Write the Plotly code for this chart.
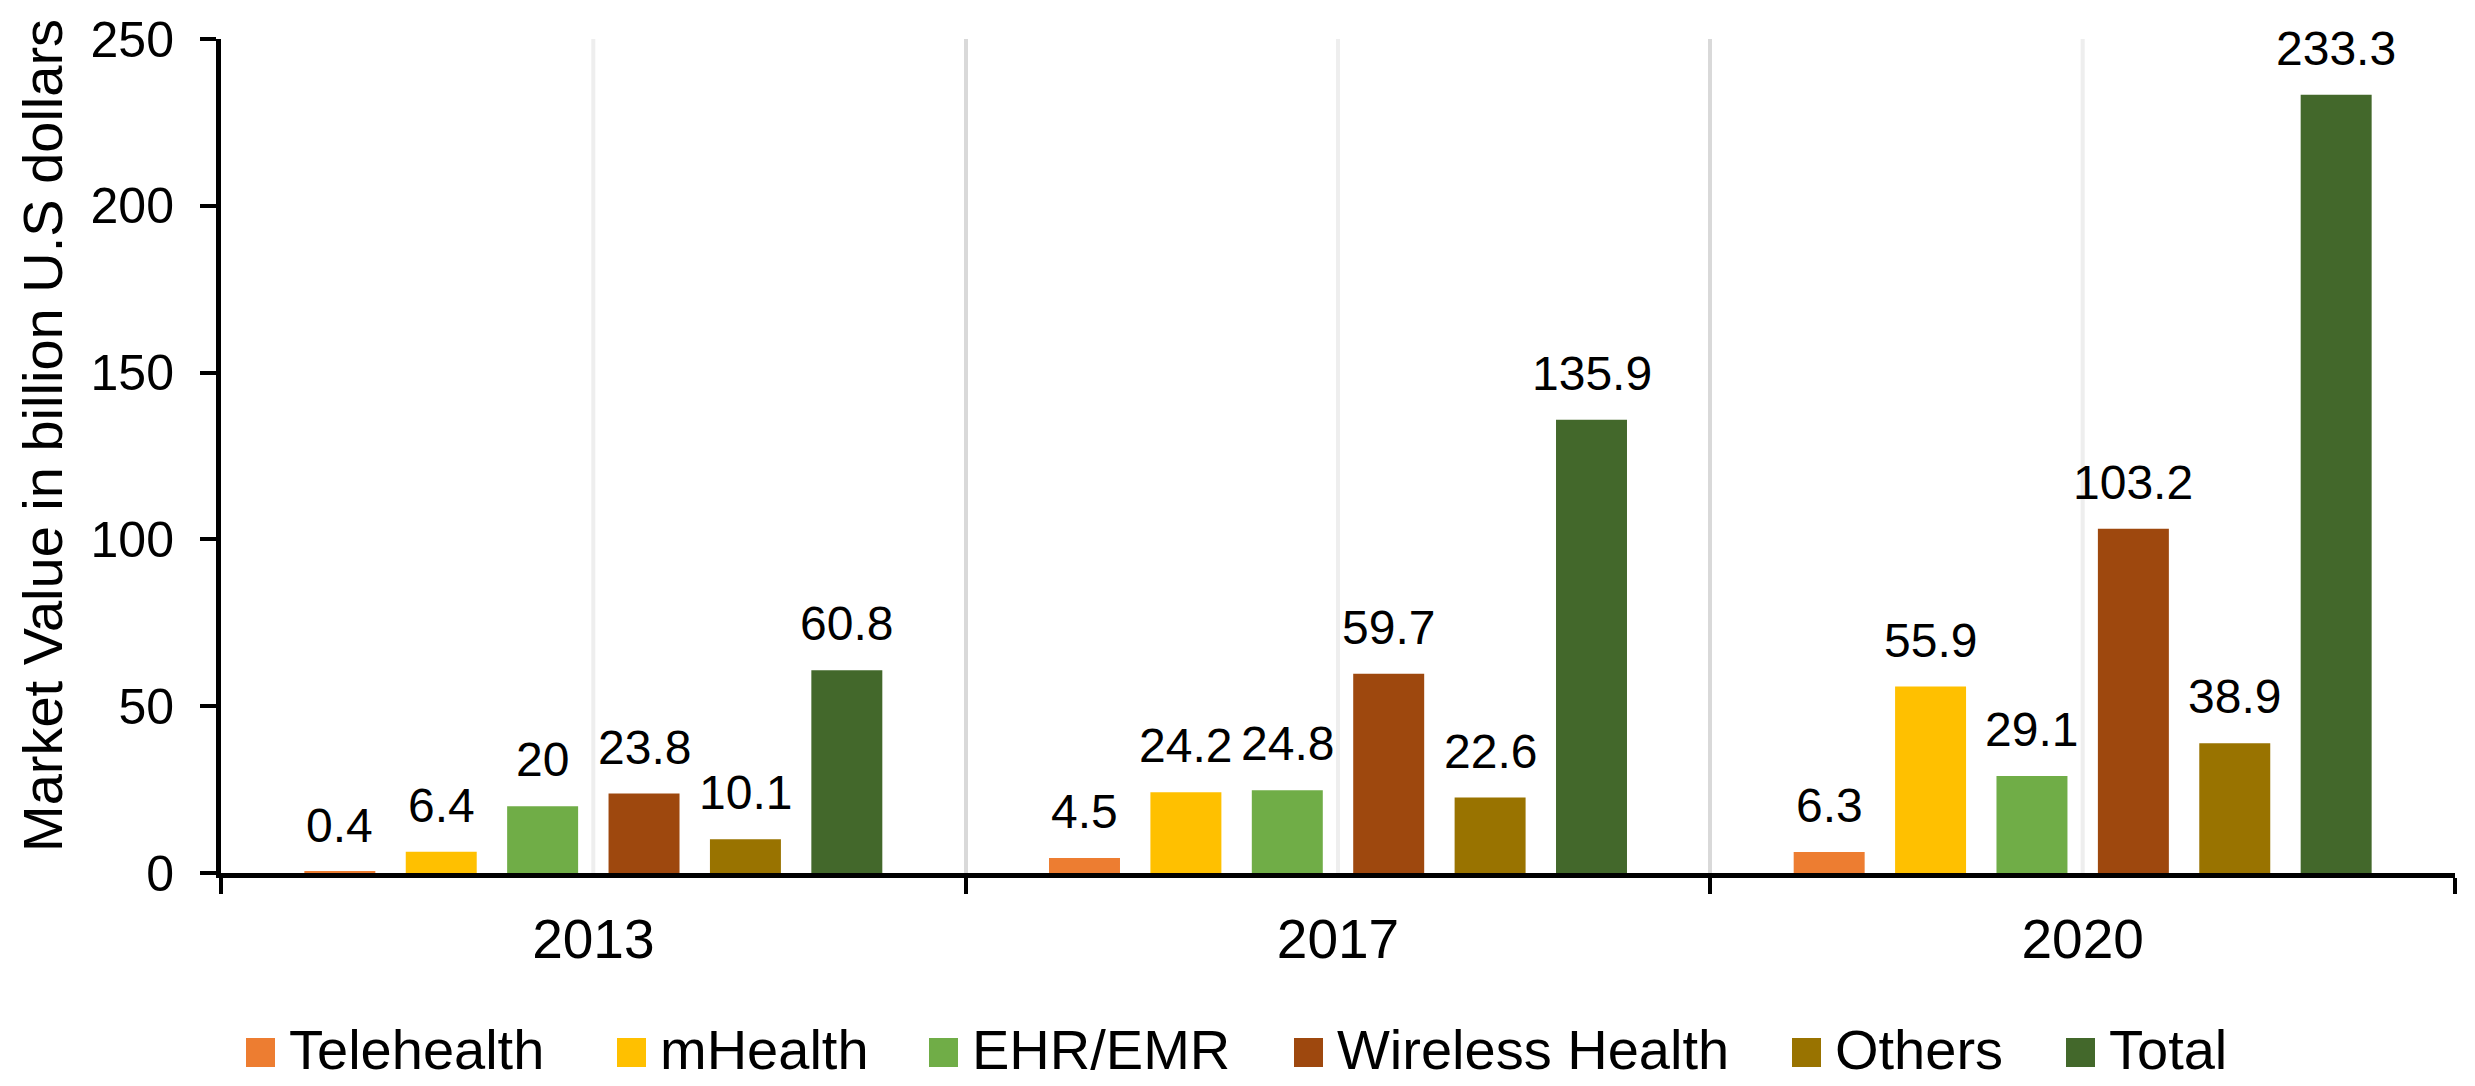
import plotly.graph_objects as go

# data (billion U.S. dollars)
years = ["2013", "2017", "2020"]
series_names = ["Telehealth", "mHealth", "EHR/EMR", "Wireless Health", "Others", "Total"]
telehealth = [0.4, 4.5, 6.3]
mhealth = [6.4, 24.2, 55.9]
ehr_emr = [20, 24.8, 29.1]
wireless_health = [23.8, 59.7, 103.2]
others = [10.1, 22.6, 38.9]
total = [60.8, 135.9, 233.3]
y_ticks = [0, 50, 100, 150, 200, 250]

series_values = [telehealth, mhealth, ehr_emr, wireless_health, others, total]
colors = ["#ED7D31", "#FFC000", "#70AD47", "#9E480E", "#997300", "#43682B"]

FONT = "Liberation Sans, Arial, sans-serif"
W, H = 2475, 1086
L, T = 221, 39
R = W - 2455
B = H - 873
PLOT_W = W - L - R
PLOT_H = H - T - B
BARGAP = 0.183
BARGROUPGAP = 0.30


def px_x(px):
    # figure pixel -> paper coordinate
    return (px - L) / PLOT_W


def px_y(py):
    return (H - B - py) / PLOT_H


fig = go.Figure()
for name, vals, col in zip(series_names, series_values, colors):
    fig.add_trace(go.Bar(name=name, x=years, y=vals, marker_color=col,
                         marker_line_width=0, showlegend=False))

# data labels above each bar
n = len(series_names)
slot = (1 - BARGAP) / n
annotations = []
for k, vals in enumerate(series_values):
    for i, v in enumerate(vals):
        annotations.append(dict(
            x=i + (k - (n - 1) / 2) * slot, y=v, xref="x", yref="y",
            text=f"{v:g}", showarrow=False, yanchor="bottom", yshift=18,
            font=dict(family=FONT, size=48, color="black"),
        ))

# y title as an annotation: it sits a little above the plot centre
annotations.append(dict(
    x=px_x(42), y=px_y(436), xref="paper", yref="paper",
    text="Market Value in billion U.S dollars", textangle=-90,
    showarrow=False, xanchor="center", yanchor="middle",
    font=dict(family=FONT, size=56, color="black"),
))

shapes = []
# light vertical lines through category centres
for i in range(len(years)):
    shapes.append(dict(type="line", xref="x", yref="y", x0=i, x1=i,
                       y0=0, y1=y_ticks[-1], layer="below",
                       line=dict(color="#EEEEEE", width=4)))

# legend drawn by hand so the swatches match the original size
legend_left = [246, 617, 929, 1294, 1792, 2066]
sw = 29
for name, col, lx in zip(series_names, colors, legend_left):
    shapes.append(dict(type="rect", xref="paper", yref="paper",
                       x0=px_x(lx), x1=px_x(lx + sw),
                       y0=px_y(1067), y1=px_y(1038),
                       fillcolor=col, line_width=0))
    annotations.append(dict(
        x=px_x(lx + sw + 12), y=px_y(1049), xref="paper", yref="paper",
        text=name, showarrow=False, xanchor="left", yanchor="middle",
        font=dict(family=FONT, size=56, color="black"),
    ))

fig.update_layout(
    width=W, height=H,
    margin=dict(l=L, r=R, t=T, b=B),
    paper_bgcolor="white", plot_bgcolor="white",
    barmode="group", bargap=BARGAP, bargroupgap=BARGROUPGAP,
    font=dict(family=FONT, color="black"),
    showlegend=False,
    annotations=annotations,
    shapes=shapes,
)
fig.update_xaxes(
    type="category", tickson="boundaries",
    showgrid=True, gridcolor="#D9D9D9", gridwidth=4,
    showline=True, linecolor="black", linewidth=5,
    ticks="outside", ticklen=16, tickwidth=4, tickcolor="black",
    tickfont=dict(family=FONT, size=55, color="black"),
    ticklabelstandoff=14,
)
fig.update_yaxes(
    range=[0, 250], tickvals=y_ticks, showgrid=False, zeroline=False,
    showline=True, linecolor="black", linewidth=5,
    ticks="outside", ticklen=16, tickwidth=4, tickcolor="black",
    tickfont=dict(family=FONT, size=50, color="black"),
    ticklabelstandoff=16,
)

# drop the default 8px body margin so the figure fills the window exactly
fig.write_html("out.html", config={"displayModeBar": False},
               post_script="document.body.style.margin = '0';")
